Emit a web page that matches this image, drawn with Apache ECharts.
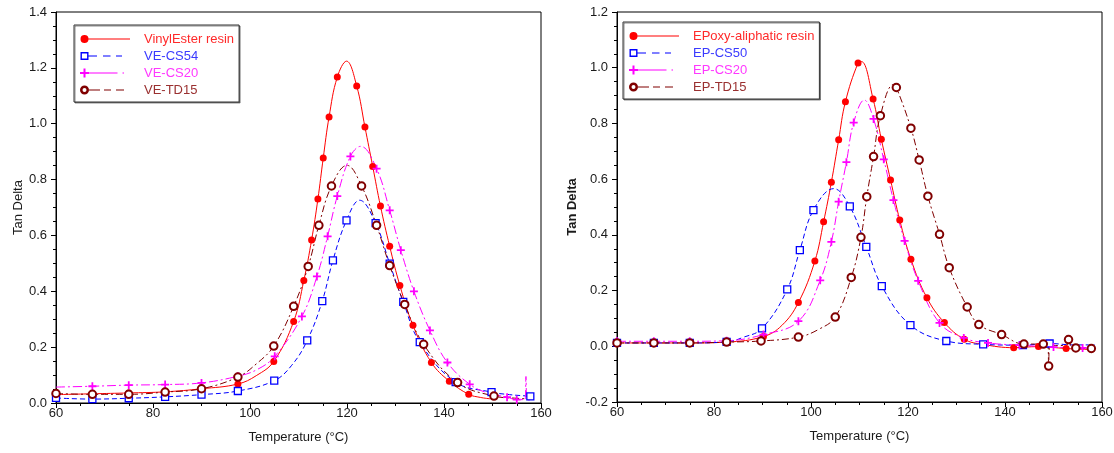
<!DOCTYPE html>
<html>
<head>
<meta charset="utf-8">
<script src="https://cdn.jsdelivr.net/npm/echarts@6/dist/echarts.min.js"></script>
<style>
  html, body { margin: 0; padding: 0; background: #fff; }
  #chart { width: 1114px; height: 453px; }
</style>
</head>
<body>
<div id="chart"></div>
<script>
// Axis ranges
const tempRange = [60, 160];
const tempStep = 20;
const tanRangeVE = [0, 1.4];
const tanRangeEP = [-0.2, 1.2];
const tanStep = 0.2;

// ---------- Vinyl ester panel ----------
// Each series: marked readings (T in °C, tan delta) plus a few unmarked points on the trace.
const veResinT  = [60, 67.5, 75, 82.5, 90, 97.5, 104.9, 109.0, 111.1, 112.7, 114.0, 115.1, 116.3, 118.0, 122.0, 123.7, 125.3, 126.9, 128.8, 130.9, 133.6, 137.4, 141.1, 145.1];
const veResinV  = [0.030, 0.033, 0.036, 0.040, 0.051, 0.068, 0.149, 0.292, 0.439, 0.584, 0.730, 0.877, 1.024, 1.167, 1.135, 0.988, 0.847, 0.705, 0.561, 0.421, 0.278, 0.145, 0.078, 0.031];
const veResinTraceT = [101.3, 119.9, 147.5, 149.5];
const veResinTraceV = [0.098, 1.224, 0.020, 0.015];

const veCs54T = [60, 67.5, 75, 82.5, 90, 97.5, 105.0, 111.8, 114.9, 117.1, 119.9, 125.9, 128.8, 131.6, 135.0, 142.4, 149.8, 157.8];
const veCs54V = [0.018, 0.014, 0.017, 0.022, 0.030, 0.043, 0.080, 0.224, 0.365, 0.511, 0.654, 0.644, 0.499, 0.362, 0.218, 0.075, 0.039, 0.024];
const veCs54TraceT = [108.6, 122.6, 153.5, 158.5];
const veCs54TraceV = [0.135, 0.726, 0.030, 0.022];

const veCs20T = [67.5, 75, 82.5, 90, 97.5, 105.1, 110.7, 113.8, 116.0, 118.0, 120.7, 126.1, 128.8, 131.1, 133.8, 137.1, 140.7, 145.3, 153.0, 155.0];
const veCs20V = [0.060, 0.064, 0.066, 0.072, 0.096, 0.167, 0.310, 0.453, 0.597, 0.741, 0.883, 0.839, 0.690, 0.547, 0.400, 0.260, 0.145, 0.067, 0.021, 0.012];
const veCs20TraceT = [60, 101.5, 122.8, 149.0, 156.7, 156.9, 157.1, 158.3];
const veCs20TraceV = [0.057, 0.120, 0.919, 0.036, 0.012, 0.095, 0.014, 0.010];

const veTd15T = [60, 67.5, 75, 82.5, 90, 97.5, 104.9, 109.0, 112.0, 114.2, 116.8, 123.0, 126.1, 128.8, 131.9, 135.8, 142.8, 150.3];
const veTd15V = [0.034, 0.031, 0.031, 0.039, 0.051, 0.093, 0.204, 0.346, 0.489, 0.636, 0.777, 0.777, 0.636, 0.492, 0.353, 0.210, 0.073, 0.025];
const veTd15TraceT = [101.3, 120.0, 155.0, 158.3];
const veTd15TraceV = [0.140, 0.851, 0.017, 0.014];

// ---------- Epoxy panel ----------
const epResinT = [60, 67.6, 75, 82.6, 90.2, 97.4, 100.8, 102.6, 104.2, 105.7, 107.1, 109.7, 112.8, 114.5, 116.4, 118.3, 120.6, 123.9, 127.5, 131.6, 135.4, 141.8, 146.9, 152.6, 157.8];
const epResinV = [0.012, 0.012, 0.012, 0.015, 0.035, 0.157, 0.306, 0.447, 0.589, 0.741, 0.878, 1.017, 0.888, 0.743, 0.597, 0.453, 0.312, 0.174, 0.085, 0.025, 0.007, -0.005, -0.001, -0.008, -0.011];
const epResinTraceT = [94.0, 110.4, 158.5];
const epResinTraceV = [0.075, 1.022, -0.010];

const epCs50T = [60, 67.6, 75, 82.6, 89.9, 95.1, 97.7, 100.5, 108.0, 111.4, 114.6, 120.5, 127.9, 135.5, 143.7, 149.2];
const epCs50V = [0.012, 0.012, 0.012, 0.016, 0.064, 0.204, 0.345, 0.489, 0.502, 0.357, 0.216, 0.076, 0.019, 0.007, 0.004, 0.010];
const epCs50TraceT = [86.0, 104.7, 154.0, 158.5];
const epCs50TraceV = [0.032, 0.566, 0.005, 0.005];

const epCs20T = [60, 67.6, 75, 82.6, 90.2, 97.4, 101.9, 104.2, 105.7, 107.3, 108.8, 112.9, 115.0, 117.0, 119.3, 122.1, 126.5, 131.5, 136.5, 143.0, 150.0, 156.0];
const epCs20V = [0.018, 0.018, 0.018, 0.020, 0.042, 0.090, 0.237, 0.375, 0.519, 0.661, 0.803, 0.816, 0.671, 0.525, 0.378, 0.235, 0.084, 0.030, 0.012, 0.004, -0.003, -0.006];
const epCs20TraceT = [111.0, 158.5];
const epCs20TraceV = [0.884, -0.007];

const epTd15T = [60, 67.6, 75, 82.6, 89.7, 97.4, 105.0, 108.3, 110.3, 111.5, 112.9, 114.3, 117.6, 120.6, 122.3, 124.1, 126.5, 128.5, 132.2, 134.6, 139.3, 143.9, 147.9, 149.0, 153.1, 154.6, 157.8];
const epTd15V = [0.012, 0.012, 0.012, 0.015, 0.019, 0.033, 0.105, 0.247, 0.391, 0.537, 0.681, 0.828, 0.929, 0.783, 0.669, 0.539, 0.402, 0.282, 0.141, 0.078, 0.042, 0.008, 0.008, -0.071, 0.024, -0.006, -0.008];
const epTd15TraceT = [101.5, 117.0, 148.8, 149.2, 152.8, 153.3, 153.5, 158.5];
const epTd15TraceV = [0.060, 0.940, 0.008, 0.000, 0.005, 0.040, 0.003, -0.008];

// ---------- Styling ----------
const FONT = '"Liberation Sans", Arial, Helvetica, sans-serif';
const TEXT = '#1a1a1a';

const RED = '#ff0000', BLUE = '#0000ff', PINK = '#ff00ff', BROWN = '#800000';

const plusPath = 'path://M3.5,0 L5.5,0 L5.5,3.5 L9,3.5 L9,5.5 L5.5,5.5 L5.5,9 L3.5,9 L3.5,5.5 L0,5.5 L0,3.5 L3.5,3.5 Z';

// Legend glyphs: marker at the left end, line sample to the right (59 x 10 box)
const box = ' M0,0 L0.01,0 Z M59,10 L58.99,10 Z';
const iconResin = 'path://M0.5,5 A4,4 0 1 1 8.5,5 A4,4 0 1 1 0.5,5 Z M8,4.5 L50,4.5 L50,5.5 L8,5.5 Z' + box;
const iconCs5x = 'path://M0.5,1 L8.5,1 L8.5,9 L0.5,9 Z M1.9,2.4 L1.9,7.6 L7.1,7.6 L7.1,2.4 Z' +
  ' M8.5,4.5 L17,4.5 L17,5.5 L8.5,5.5 Z M23,4.5 L30.5,4.5 L30.5,5.5 L23,5.5 Z M36,4.5 L42,4.5 L42,5.5 L36,5.5 Z' + box;
const iconCs20 = 'path://M3.5,0.5 L5.5,0.5 L5.5,4 L9,4 L9,6 L5.5,6 L5.5,9.5 L3.5,9.5 L3.5,6 L0,6 L0,4 L3.5,4 Z' +
  ' M9,4.5 L37.5,4.5 L37.5,5.5 L9,5.5 Z M42.5,4.5 L44,4.5 L44,5.5 L42.5,5.5 Z' + box;
const iconTd15 = 'path://M0,5 A4.5,4.5 0 1 1 9,5 A4.5,4.5 0 1 1 0,5 Z M2.5,5 A2,2 0 1 0 6.5,5 A2,2 0 1 0 2.5,5 Z' +
  ' M9,4.5 L20,4.5 L20,5.5 L9,5.5 Z M24,4.5 L31,4.5 L31,5.5 L24,5.5 Z M36,4.5 L44,4.5 L44,5.5 L36,5.5 Z' + box;

const kinds = {
  resin: { color: RED, symbol: 'circle', size: 7, item: { color: RED, borderWidth: 0 }, dash: 'solid', icon: iconResin, text: '#ff2a2a' },
  cs5x:  { color: BLUE, symbol: 'rect', size: 7, item: { color: '#fff', borderColor: BLUE, borderWidth: 1.3 }, dash: [5, 3], icon: iconCs5x, text: '#3a3aff' },
  cs20:  { color: PINK, symbol: plusPath, size: 8, item: { color: PINK, borderWidth: 0 }, dash: [9, 3, 2, 3], icon: iconCs20, text: '#ff38ff' },
  td15:  { color: BROWN, symbol: 'circle', size: 7.5, item: { color: '#fff', borderColor: BROWN, borderWidth: 2 }, dash: [7, 3, 2, 3], icon: iconTd15, text: '#9a3030' }
};

function points(markT, markV, traceT, traceV) {
  const pts = markT.map((t, i) => ({ value: [t, markV[i]] }));
  traceT.forEach((t, i) => pts.push({ value: [t, traceV[i]], symbol: 'none' }));
  pts.sort((a, b) => a.value[0] - b.value[0]);
  return pts;
}

function lineSeries(name, kind, panel, data) {
  const k = kinds[kind];
  return {
    type: 'line', name: name,
    xAxisIndex: panel, yAxisIndex: panel,
    data: data,
    smooth: 0.4,
    showAllSymbol: true,
    symbol: k.symbol, symbolSize: k.size,
    itemStyle: k.item,
    lineStyle: { color: k.color, width: 1, type: k.dash },
    emphasis: { disabled: true },
    clip: false
  };
}

const veSeries = [
  ['VinylEster resin', 'resin', points(veResinT, veResinV, veResinTraceT, veResinTraceV)],
  ['VE-CS54', 'cs5x', points(veCs54T, veCs54V, veCs54TraceT, veCs54TraceV)],
  ['VE-CS20', 'cs20', points(veCs20T, veCs20V, veCs20TraceT, veCs20TraceV)],
  ['VE-TD15', 'td15', points(veTd15T, veTd15V, veTd15TraceT, veTd15TraceV)]
];
const epSeries = [
  ['EPoxy-aliphatic resin', 'resin', points(epResinT, epResinV, epResinTraceT, epResinTraceV)],
  ['EP-CS50', 'cs5x', points(epCs50T, epCs50V, epCs50TraceT, epCs50TraceV)],
  ['EP-CS20', 'cs20', points(epCs20T, epCs20V, epCs20TraceT, epCs20TraceV)],
  ['EP-TD15', 'td15', points(epTd15T, epTd15V, epTd15TraceT, epTd15TraceV)]
];

function legendFor(list, left, top) {
  return {
    orient: 'vertical', left: left, top: top,
    itemWidth: 59, itemHeight: 10, itemGap: 3,
    padding: [7, 5, 5, 6],
    borderColor: '#333', borderWidth: 1, backgroundColor: '#fff',
    shadowColor: 'rgba(0,0,0,0.45)', shadowOffsetX: 1, shadowOffsetY: 1, shadowBlur: 0,
    symbolKeepAspect: true,
    selectedMode: false,
    itemStyle: { borderWidth: 0 },
    textStyle: { fontFamily: FONT, fontSize: 13, lineHeight: 14 },
    data: list.map(([name, kind]) => ({
      name: name,
      icon: kinds[kind].icon,
      itemStyle: { color: kinds[kind].color, borderWidth: 0 },
      textStyle: { color: kinds[kind].text }
    }))
  };
}

function xAxisFor(i) {
  return {
    gridIndex: i, type: 'value', min: tempRange[0], max: tempRange[1], interval: tempStep,
    name: 'Temperature (°C)', nameLocation: 'middle', nameGap: 28,
    nameTextStyle: { fontFamily: FONT, fontSize: 13, color: TEXT },
    axisLine: { show: true, onZero: false, lineStyle: { color: '#000', width: 1 } },
    axisTick: { show: true, length: 5, lineStyle: { color: '#000' } },
    minorTick: { show: true, splitNumber: 4, length: 3, lineStyle: { color: '#000' } },
    axisLabel: { fontFamily: FONT, fontSize: 13, color: TEXT, margin: 4 },
    splitLine: { show: false }
  };
}

function yAxisFor(i, range, gap, bold) {
  return {
    gridIndex: i, type: 'value', min: range[0], max: range[1], interval: tanStep,
    name: 'Tan Delta', nameLocation: 'middle', nameGap: gap, nameRotate: 90,
    nameTextStyle: { fontFamily: FONT, fontSize: 13, color: TEXT, fontWeight: bold ? 'bold' : 'normal' },
    axisLine: { show: true, onZero: false, lineStyle: { color: '#000', width: 1 } },
    axisTick: { show: true, length: 5, lineStyle: { color: '#000' } },
    minorTick: { show: true, splitNumber: 4, length: 3, lineStyle: { color: '#000' } },
    axisLabel: {
      fontFamily: FONT, fontSize: 13, color: TEXT, margin: 9,
      formatter: v => (Math.abs(v) < 1e-9 ? 0 : v).toFixed(1)
    },
    splitLine: { show: false }
  };
}

const chart = echarts.init(document.getElementById('chart'), null, { renderer: 'canvas' });
chart.setOption({
  animation: false,
  backgroundColor: '#fff',
  grid: [
    { left: 56, top: 12, width: 485, height: 391, show: true, borderColor: '#000', borderWidth: 1, containLabel: false, outerBoundsMode: 'none' },
    { left: 617, top: 12, width: 485, height: 390, show: true, borderColor: '#000', borderWidth: 1, containLabel: false, outerBoundsMode: 'none' }
  ],
  xAxis: [xAxisFor(0), xAxisFor(1)],
  yAxis: [yAxisFor(0, tanRangeVE, 31, false), yAxisFor(1, tanRangeEP, 38, true)],
  legend: [legendFor(veSeries, 74, 25), legendFor(epSeries, 623, 22)],
  series: [
    ...veSeries.map(([name, kind, data]) => lineSeries(name, kind, 0, data)),
    ...epSeries.map(([name, kind, data]) => lineSeries(name, kind, 1, data))
  ]
});
</script>
</body>
</html>
